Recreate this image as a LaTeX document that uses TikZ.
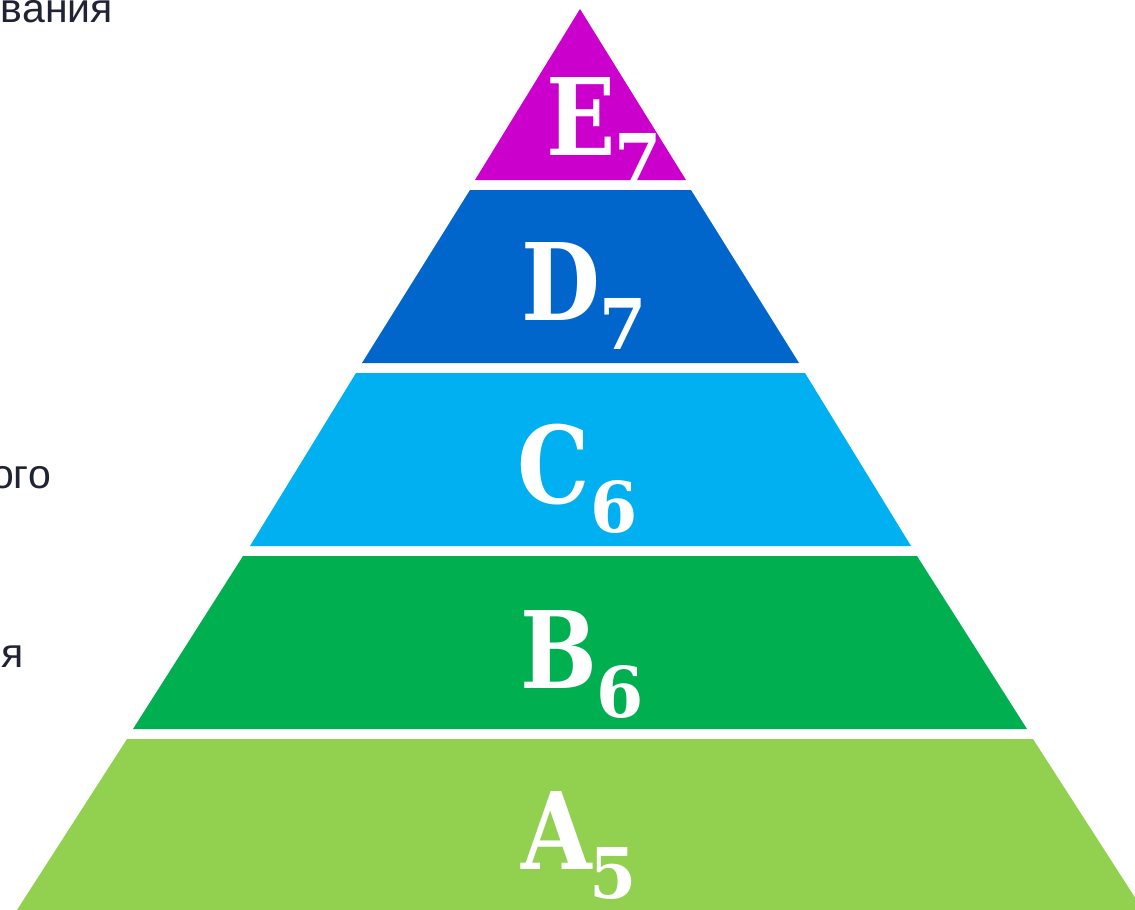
\documentclass[tikz,border=0pt]{standalone}
\usepackage{graphicx}
\usepackage{fontspec}
\setmainfont{Liberation Sans}
\newfontfamily\pyrfont{DejaVu Serif}
\definecolor{cE}{HTML}{CC00CC}
\definecolor{cD}{HTML}{0066CC}
\definecolor{cC}{HTML}{00B0F0}
\definecolor{cB}{HTML}{00AF50}
\definecolor{cA}{HTML}{92D050}
\definecolor{txt}{HTML}{1F2333}
\newcommand{\pyrbig}[1]{\scalebox{0.85}[1]{\pyrfont\bfseries\fontsize{107}{107}\selectfont #1}}
\newcommand{\pyrsub}[1]{\scalebox{0.97}[1]{\pyrfont\bfseries\fontsize{70}{70}\selectfont #1}}
\begin{document}
\begin{tikzpicture}[x=1pt,y=-1pt,
  big/.style={text=white, inner sep=0pt, anchor=base west},
  sub/.style={text=white, inner sep=0pt, anchor=base west},
  side/.style={text=txt, inner sep=0pt, anchor=base east,
    font=\fontsize{41}{44}\selectfont}]
\useasboundingbox (0,0) rectangle (1135,910);
\clip (0,0) rectangle (1135,910);
\fill[white] (0,0) rectangle (1135,910);
% layers
\fill[cE] (580,9) -- (686,180) -- (475,180) -- cycle;
\fill[cD] (470,190) -- (691,190) -- (799,363) -- (362,363) -- cycle;
\fill[cC] (356,373) -- (805,373) -- (911,546) -- (250,546) -- cycle;
\fill[cB] (243,556) -- (917,556) -- (1027,729) -- (133,729) -- cycle;
\fill[cA] (127,739) -- (1033,739) -- (1143,910) -- (17,910) -- cycle;
% labels
\node[big] (le) at (546,155) {\pyrbig{E}};
\node[sub] (le7) at ([xshift=-1pt,yshift=-29pt]le.base east) {\pyrsub{7}};
\node[big] (ld) at (521,320) {\pyrbig{D}};
\node[sub] (ld7) at ([xshift=-1pt,yshift=-29pt]ld.base east) {\pyrsub{7}};
\node[big] (lc) at (517,503) {\pyrbig{C}};
\node[sub] (lc6) at ([xshift=1pt,yshift=-29pt]lc.base east) {\pyrsub{6}};
\node[big] (lb) at (520,688) {\pyrbig{B}};
\node[sub] (lb6) at ([xshift=-1pt,yshift=-29pt]lb.base east) {\pyrsub{6}};
\node[big] (la) at (521,869) {\pyrbig{A}};
\node[sub] (la5) at ([xshift=-3pt,yshift=-29pt]la.base east) {\pyrsub{5}};
% clipped side texts
\node[side] (t1) at (113,22) {вания};
\node[side] (t2) at (51,488) {ого};
\node[side] (t3) at (24,667) {я};
\end{tikzpicture}
\end{document}
